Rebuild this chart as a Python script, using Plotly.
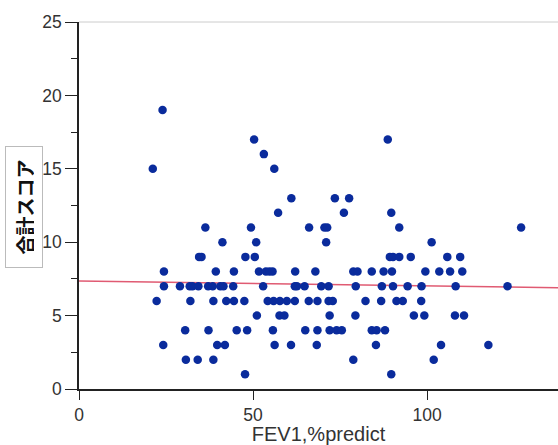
import plotly.graph_objects as go

# FEV1 %predicted values grouped by total score (合計スコア)
score_1 = [47.7, 89.7]
score_2 = [30.7, 34.1, 38.6, 78.8, 101.9]
score_3 = [24.2, 39.7, 41.9, 56.2, 60.9, 68.3, 85.3, 104.0, 117.6]
score_4 = [30.5, 37.2, 45.3, 48.3, 55.7, 65.0, 68.5, 72.0, 74.0, 75.5, 84.1, 85.5, 87.9]
score_5 = [51.1, 57.6, 59.0, 72.0, 79.4, 96.2, 99.2, 108.0, 110.6]
score_6 = [22.3, 32.0, 38.6, 42.3, 44.5, 47.5, 54.2, 55.9, 57.7, 59.7, 62.0, 66.0,
           68.5, 71.7, 72.9, 82.3, 86.8, 91.2, 93.0, 98.3]
score_7 = [24.4, 29.0, 31.8, 32.6, 34.3, 37.1, 38.4, 40.6, 41.5, 44.3, 52.9, 62.0,
           62.6, 64.8, 69.6, 71.7, 79.5, 87.0, 90.2, 94.4, 98.4, 108.2, 123.1]
score_8 = [24.4, 39.3, 44.5, 51.7, 53.7, 54.7, 55.6, 62.1, 67.9, 78.8, 80.0, 84.1,
           87.5, 89.9, 99.5, 103.5, 106.6, 110.1]
score_9 = [34.5, 35.2, 47.8, 50.5, 89.3, 90.2, 92.0, 95.3, 105.8, 109.5]
score_10 = [41.2, 50.9, 71.0, 101.3]
score_11 = [36.3, 49.4, 66.1, 70.5, 71.3, 92.0, 127.0]
score_12 = [57.2, 76.1, 89.7]
score_13 = [61.0, 73.5, 77.6]
score_15 = [21.2, 56.1]
score_16 = [53.1]
score_17 = [50.3, 88.7]
score_19 = [24.0]

groups = {1: score_1, 2: score_2, 3: score_3, 4: score_4, 5: score_5, 6: score_6,
          7: score_7, 8: score_8, 9: score_9, 10: score_10, 11: score_11, 12: score_12,
          13: score_13, 15: score_15, 16: score_16, 17: score_17, 19: score_19}

fev1 = []
total_score = []
for s, xs in groups.items():
    for x in xs:
        fev1.append(x)
        total_score.append(s)

# Fitted line
trend_x = [0, 137.6]
trend_y = [7.36, 6.9]

x_ticks = [0, 50, 100]
y_ticks = [0, 5, 10, 15, 20, 25]

fig = go.Figure()
fig.add_trace(go.Scatter(x=trend_x, y=trend_y, mode="lines",
                         line=dict(color="#e05a72", width=1.6), hoverinfo="skip"))
fig.add_trace(go.Scatter(x=fev1, y=total_score, mode="markers",
                         marker=dict(color="#0a2b9c", size=8.5, line=dict(width=0))))

tickfont = dict(family="Liberation Sans, Arial, sans-serif", size=17.5, color="#333333")
titlefont = dict(family="Liberation Sans, Arial, sans-serif", size=20, color="#333333")

# plot area spans 79..558 x 22..389 in window px (body margin removed below)
fig.update_layout(
    width=558, height=445,
    margin=dict(l=79, r=0, t=22, b=56),
    paper_bgcolor="white", plot_bgcolor="white",
    showlegend=False,
    xaxis=dict(range=[0, 137.6], tickvals=x_ticks, ticks="outside", ticklen=9,
               tickwidth=1.3, tickcolor="#222", showline=True, linecolor="#222",
               linewidth=1.5, showgrid=False, zeroline=False, tickfont=tickfont,
               automargin=False,
               title=dict(text="FEV1,%predict", font=titlefont, standoff=12)),
    yaxis=dict(range=[0, 25], tickvals=y_ticks, ticks="outside", ticklen=12,
               tickwidth=1.3, tickcolor="#222", showline=True, linecolor="#222",
               linewidth=1.5, showgrid=False, zeroline=False, tickfont=tickfont,
               automargin=False,
               minor=dict(dtick=2.5, ticks="outside", ticklen=6, tickcolor="#222", tickwidth=1.2)),
)

fig.add_shape(type="line", xref="paper", yref="paper", x0=0, x1=1, y0=1, y1=1,
              line=dict(color="#cccccc", width=1))

fig.add_annotation(text="合計スコア", xref="paper", yref="paper",
                   x=(24 - 79) / 479, y=(389 - 207) / 367, textangle=-90,
                   showarrow=False, xanchor="center", yanchor="middle",
                   font=dict(family="Noto Sans CJK JP", size=19, color="#111", weight="bold"),
                   bordercolor="#bbbbbb", borderwidth=1, borderpad=8,
                   bgcolor="white", width=104, height=20)

fig.write_html("out.html",
               config={"displayModeBar": False},
               post_script="document.body.style.margin='0';document.body.style.overflow='hidden';")
